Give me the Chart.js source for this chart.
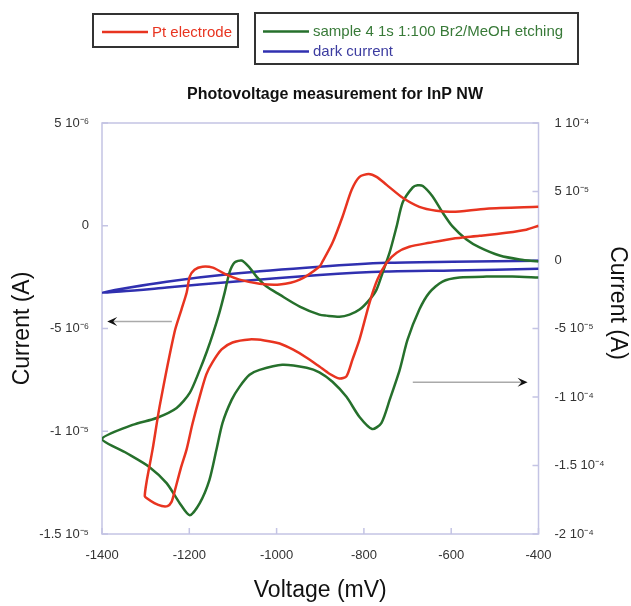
<!DOCTYPE html>
<html>
<head>
<meta charset="utf-8">
<script src="https://cdn.jsdelivr.net/npm/chart.js@4"></script>
<style>
  html, body { margin: 0; padding: 0; background: #fff; }
  #wrap { width: 631px; height: 606px; position: relative; }
</style>
</head>
<body>
<div id="wrap"><canvas id="myChart"></canvas></div>
<script>
// Pt electrode, left axis (current in microamps)
var ptVoltage = [-400, -519, -597, -634, -673, -711, -748, -771, -789, -810, -828, -849, -872, -895,
  -902, -947, -993, -1039, -1085, -1115, -1146, -1170, -1188, -1199, -1206, -1218, -1234,
  -1268, -1284, -1298, -1302, -1298, -1280, -1263, -1250, -1241, -1234, -1220, -1206, -1193, -1176,
  -1161, -1147, -1126, -1101, -1062, -1028, -993, -963, -931, -902, -879, -856, -840, -826, -810,
  -787, -769, -748, -725, -696, -650, -597, -535, -474, -428, -400];
var ptCurrent = [0.92, 0.83, 0.68, 0.73, 0.92, 1.36, 1.99, 2.38, 2.52, 2.38, 1.75, 0.44, -0.83, -1.75,
  -1.99, -2.62, -2.86, -2.82, -2.62, -2.38, -2.04, -1.99, -2.14, -2.48, -3.25, -4.08, -5.19,
  -8.79, -10.87, -12.48, -13.16, -13.25, -13.50, -13.64, -13.64, -13.45, -12.96, -11.84, -10.87, -9.66, -8.30,
  -7.23, -6.65, -6.02, -5.68, -5.53, -5.58, -5.73, -6.02, -6.42, -6.85, -7.20, -7.43, -7.33, -6.50, -5.53,
  -3.74, -2.62, -1.80, -1.31, -1.02, -0.83, -0.63, -0.49, -0.34, -0.19, 0.0];

// sample 4, right axis (current in units of 1e-5 A)
var sampleVoltage = [-400, -443, -489, -535, -565, -597, -620, -643, -665, -677, -688, -711, -725, -741,
  -757, -771, -787, -810, -833, -856, -886, -902, -947, -993, -1023, -1046, -1062, -1080, -1096, -1108,
  -1119, -1131, -1145, -1160, -1176, -1199, -1229, -1275, -1330, -1400, -1344, -1291, -1252, -1222, -1199,
  -1176, -1154, -1138, -1124, -1103, -1085, -1062, -1039, -987, -931, -902, -872, -840, -810, -781,
  -760, -741, -718, -700, -673, -650, -620, -581, -519, -460, -400];
var sampleCurrent = [-0.11, 0.04, 0.33, 0.92, 1.50, 2.45, 3.48, 4.65, 5.40, 5.45, 5.30, 4.21, 2.45, 0.55,
  -0.92, -2.16, -2.89, -3.62, -3.99, -4.14, -4.06, -3.99, -3.40, -2.53, -1.94, -1.21, -0.55, -0.04, -0.18, -0.92,
  -2.38, -3.84, -5.30, -6.70, -8.02, -9.70, -10.80, -11.53, -12.04, -13.07, -14.09, -15.12, -16.29, -17.75, -18.63,
  -17.75, -16.07, -13.87, -11.90, -10.21, -9.26, -8.38, -8.02, -7.65, -7.87, -8.20, -8.89, -9.99, -11.46, -12.34,
  -11.90, -10.21, -8.02, -5.82, -3.62, -2.38, -1.57, -1.28, -1.21, -1.21, -1.28];

// dark current, left axis (microamps)
var darkVoltage = [-400, -597, -748, -902, -1100, -1252, -1400, -1252, -1100, -902, -748, -597, -400];
var darkCurrent = [-1.70, -1.75, -1.80, -1.99, -2.33, -2.72, -3.25, -3.01, -2.72, -2.40, -2.23, -2.18, -2.09];

var xTicks = [-1400, -1200, -1000, -800, -600, -400];
var leftTicks = [5e-6, 0, -5e-6, -1e-5, -1.5e-5];
var rightTicks = [1e-4, 5e-5, 0, -5e-5, -1e-4, -1.5e-4, -2e-4];

var seriesLabels = ['Pt electrode', 'sample 4 1s 1:100 Br2/MeOH etching', 'dark current'];

var RED = 'rgb(232,52,32)', GREEN = 'rgb(38,112,44)', BLUE = 'rgb(48,48,176)';
var AXIS = '#c4c4e4';
var FONT = '"Liberation Sans", Arial, sans-serif';

function pts(xs, ys, k) {
  return xs.map(function (x, i) { return { x: x, y: ys[i] * k }; });
}

var sup = {'-': '\u207B', '0': '\u2070', '1': '\u00B9', '2': '\u00B2', '3': '\u00B3', '4': '\u2074',
  '5': '\u2075', '6': '\u2076', '7': '\u2077', '8': '\u2078', '9': '\u2079'};
function sciLabel(v) {
  v = Number(Number(v).toPrecision(6));
  if (v === 0) return '0';
  var e = Math.floor(Math.log10(Math.abs(v)) + 1e-9);
  var m = Number((v / Math.pow(10, e)).toPrecision(3));
  return m + ' 10' + String(e).split('').map(function (c) { return sup[c]; }).join('');
}

function fixedTicks(list) {
  return function (scale) { scale.ticks = list.map(function (v) { return { value: v }; }); };
}

var decor = {
  id: 'decor',
  beforeDatasetsDraw: function (chart) {
    var ctx = chart.ctx, a = chart.chartArea;
    var x = chart.scales.x, yl = chart.scales.y, yr = chart.scales.y2;
    ctx.save();
    ctx.strokeStyle = AXIS;
    ctx.lineWidth = 1.5;
    ctx.strokeRect(a.left, a.top, a.right - a.left, a.bottom - a.top);
    ctx.beginPath();
    xTicks.forEach(function (v) { var p = x.getPixelForValue(v); ctx.moveTo(p, a.bottom); ctx.lineTo(p, a.bottom - 6); });
    leftTicks.forEach(function (v) { var p = yl.getPixelForValue(v); ctx.moveTo(a.left, p); ctx.lineTo(a.left + 6, p); });
    rightTicks.forEach(function (v) { var p = yr.getPixelForValue(v); ctx.moveTo(a.right, p); ctx.lineTo(a.right - 6, p); });
    ctx.stroke();
    ctx.restore();
  },
  afterDraw: function (chart) {
    var ctx = chart.ctx;
    var x = chart.scales.x, yl = chart.scales.y, yr = chart.scales.y2;
    ctx.save();

    // arrows pointing to the axis each curve belongs to
    function arrow(v0, v1, py) {
      var x0 = x.getPixelForValue(v0), x1 = x.getPixelForValue(v1);
      var d = x1 > x0 ? 1 : -1;
      ctx.strokeStyle = '#aaa';
      ctx.lineWidth = 1.5;
      ctx.beginPath(); ctx.moveTo(x0, py); ctx.lineTo(x1 - d * 4, py); ctx.stroke();
      ctx.fillStyle = '#111';
      ctx.beginPath();
      ctx.moveTo(x1, py);
      ctx.lineTo(x1 - d * 10, py - 4.5);
      ctx.lineTo(x1 - d * 6, py);
      ctx.lineTo(x1 - d * 10, py + 4.5);
      ctx.closePath();
      ctx.fill();
    }
    arrow(-1240, -1388, yl.getPixelForValue(-4.66e-6));
    arrow(-688, -425, yr.getPixelForValue(-8.93e-5));

    // title
    ctx.fillStyle = '#111';
    ctx.font = 'bold 16px ' + FONT;
    ctx.textAlign = 'center';
    ctx.textBaseline = 'middle';
    ctx.fillText('Photovoltage measurement for InP NW', 335, 95);

    // right axis title
    ctx.save();
    ctx.translate(617, 303);
    ctx.rotate(Math.PI / 2);
    ctx.font = '23px ' + FONT;
    ctx.fillStyle = '#111';
    ctx.fillText('Current (A)', 0, 0);
    ctx.restore();

    // legend boxes
    ctx.strokeStyle = '#333';
    ctx.lineWidth = 2;
    ctx.strokeRect(93, 14, 145, 33);
    ctx.strokeRect(255, 13, 323, 51);
    var ds = chart.data.datasets;
    var items = [[0, 102, 32], [1, 263, 31.5], [2, 263, 51.5]];
    var txtColors = [RED, 'rgb(56,122,56)', 'rgb(60,60,160)'];
    ctx.font = '15px ' + FONT;
    ctx.textAlign = 'left';
    items.forEach(function (it) {
      ctx.strokeStyle = ds[it[0]].borderColor;
      ctx.lineWidth = 2.5;
      ctx.beginPath(); ctx.moveTo(it[1], it[2]); ctx.lineTo(it[1] + 46, it[2]); ctx.stroke();
      ctx.fillStyle = txtColors[it[0]];
      ctx.fillText(ds[it[0]].label, it[1] + 50, it[2] + 0.5);
    });
    ctx.restore();
  }
};

var ctx = document.getElementById('myChart');

var myChart = new Chart(ctx, {
  type: 'scatter',
  data: {
    datasets: [{
      label: seriesLabels[0],
      data: pts(ptVoltage, ptCurrent, 1e-6),
      borderColor: RED,
      yAxisID: 'y'
    }, {
      label: seriesLabels[1],
      data: pts(sampleVoltage, sampleCurrent, 1e-5),
      borderColor: GREEN,
      yAxisID: 'y2'
    }, {
      label: seriesLabels[2],
      data: pts(darkVoltage, darkCurrent, 1e-6),
      borderColor: BLUE,
      yAxisID: 'y'
    }]
  },
  options: {
    responsive: true,
    maintainAspectRatio: false,
    animation: false,
    showLine: true,
    elements: {
      point: { radius: 0, hoverRadius: 0 },
      line: { borderWidth: 2.5, tension: 0.25, fill: false }
    },
    layout: { padding: { top: 123, left: 0, right: 0, bottom: 0 } },
    plugins: { legend: { display: false }, tooltip: { enabled: false } },
    scales: {
      x: {
        type: 'linear', min: -1400, max: -400,
        afterBuildTicks: fixedTicks(xTicks),
        afterFit: function (s) { s.height = 72; },
        grid: { display: false, drawTicks: false },
        border: { display: false },
        ticks: { color: '#333', padding: 14, font: { size: 13, family: FONT }, callback: function (v) { return String(v); } },
        title: { display: true, text: 'Voltage (mV)', color: '#111', font: { size: 23, family: FONT }, padding: { top: 0, bottom: 2 } }
      },
      y: {
        type: 'linear', position: 'left', min: -1.5e-5, max: 5e-6,
        afterBuildTicks: fixedTicks(leftTicks),
        afterFit: function (s) { s.width = 102; },
        grid: { display: false, drawTicks: false },
        border: { display: false },
        ticks: { color: '#333', padding: 13, font: { size: 13, family: FONT }, callback: sciLabel },
        title: { display: true, text: 'Current (A)', color: '#111', font: { size: 23, family: FONT }, padding: { top: 9, bottom: 0 } }
      },
      y2: {
        type: 'linear', position: 'right', min: -2e-4, max: 1e-4,
        afterBuildTicks: fixedTicks(rightTicks),
        afterFit: function (s) { s.width = 92.5; },
        grid: { display: false, drawTicks: false },
        border: { display: false },
        ticks: { color: '#333', padding: 16, font: { size: 13, family: FONT }, callback: sciLabel }
      }
    }
  },
  plugins: [decor]
});
</script>
</body>
</html>
